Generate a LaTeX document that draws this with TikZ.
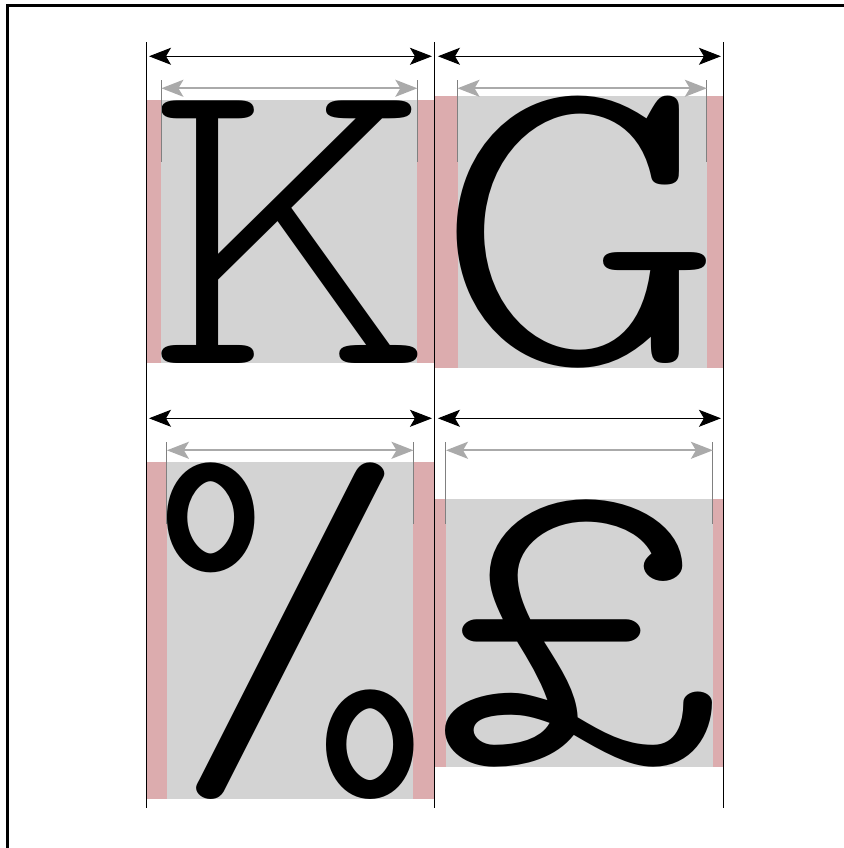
\documentclass[tikz,border=0pt]{standalone}
\usepackage{fontspec}
\usepackage{graphicx}
\usetikzlibrary{arrows.meta, backgrounds}
\newfontfamily\glyphfont{Latin Modern Mono Light}
\newcommand\glyphsize{\fontsize{215pt}{215pt}\selectfont}
\newcommand\glyphstretch{1.28}
\definecolor{bearing}{RGB}{220,172,174}
\definecolor{inkbox}{RGB}{211,211,211}
\definecolor{inkarrow}{RGB}{170,170,170}
\definecolor{inktick}{RGB}{128,128,128}
% side bearings of a glyph: #1 char code, #2 left, #3 right
\newcommand\measureglyph[3]{{\glyphfont\glyphsize
  \xdef#2{\the\XeTeXglyphbounds1 \XeTeXcharglyph#1 }%
  \xdef#3{\the\XeTeXglyphbounds3 \XeTeXcharglyph#1 }}}
\AtBeginDocument{%
  \measureglyph{`K}{\lsbK}{\rsbK}%
  \measureglyph{`G}{\lsbG}{\rsbG}%
  \measureglyph{`\%}{\lsbPct}{\rsbPct}%
  \measureglyph{`£}{\lsbPound}{\rsbPound}}

\begin{document}
\begin{tikzpicture}[x=0.5pt, y=-0.5pt, >={Stealth[length=11pt, width=8.5pt, inset=2.5pt]},
  glyph/.style={font=\glyphfont\glyphsize, inner sep=0pt, outer sep=0pt, anchor=base west},
  advance/.style={draw=black, line width=0.5pt, <->, shorten <=1.5pt, shorten >=1.5pt},
  inkwidth/.style={draw=inkarrow, line width=1pt, <->},
  inktickline/.style={draw=inktick, line width=0.5pt},
  advline/.style={draw=black, line width=0.5pt}]
  \useasboundingbox (0,0) rectangle (843,848);
  % frame
  \draw[line width=1.25pt] (7.5,5.5) rectangle (900,900);
  % glyphs
  \node[glyph] (K) at (146,363) {\scalebox{\glyphstretch}[1]{K}};
  \node[glyph] (G) at (K.base east) {\scalebox{\glyphstretch}[1]{G}};
  \node[glyph] (Pct) at (146,762) {\scalebox{\glyphstretch}[1]{\%}};
  \node[glyph] (Pound) at (Pct.base east) {\scalebox{\glyphstretch}[1]{£}};
  % advance and ink boxes
  \begin{scope}[on background layer]
    \foreach \g in {K,G,Pct,Pound}{
      \expandafter\let\expandafter\lsb\csname lsb\g\endcsname
      \expandafter\let\expandafter\rsb\csname rsb\g\endcsname
      \fill[bearing] (\g.north west) rectangle (\g.south east);
      \fill[inkbox] ([xshift={\glyphstretch*\lsb}]\g.north west) rectangle ([xshift={-\glyphstretch*\rsb}]\g.south east);
    }
  \end{scope}
  % width arrows
  \foreach \g/\r in {K/K, G/K, Pct/Pct, Pound/Pct}{
    \expandafter\let\expandafter\lsb\csname lsb\g\endcsname
    \expandafter\let\expandafter\rsb\csname rsb\g\endcsname
    \coordinate (advrow) at ([yshift=22pt]\r.north);
    \coordinate (inkrow) at ([yshift=6pt]\r.north);
    \coordinate (ticktop) at ([yshift=10pt]\r.north);
    \coordinate (tickbot) at ([yshift=-31pt]\r.north);
    \coordinate (il) at ([xshift={\glyphstretch*\lsb}]\g.north west);
    \coordinate (ir) at ([xshift={-\glyphstretch*\rsb}]\g.north east);
    \draw[advance] (\g.west |- advrow) -- (\g.east |- advrow);
    \draw[inktickline] (il |- ticktop) -- (il |- tickbot);
    \draw[inktickline] (ir |- ticktop) -- (ir |- tickbot);
    \draw[inkwidth] (il |- inkrow) -- (ir |- inkrow);
  }
  % advance lines
  \coordinate (linetop) at ([yshift=29pt]K.north);
  \coordinate (linebot) at ([yshift=-4.5pt]Pct.south);
  \foreach \a/\b in {K.west/Pct.west, K.east/Pct.east, G.east/Pound.east}
    \draw[advline] (\a |- linetop) -- (\b |- linebot);
\end{tikzpicture}
\end{document}
